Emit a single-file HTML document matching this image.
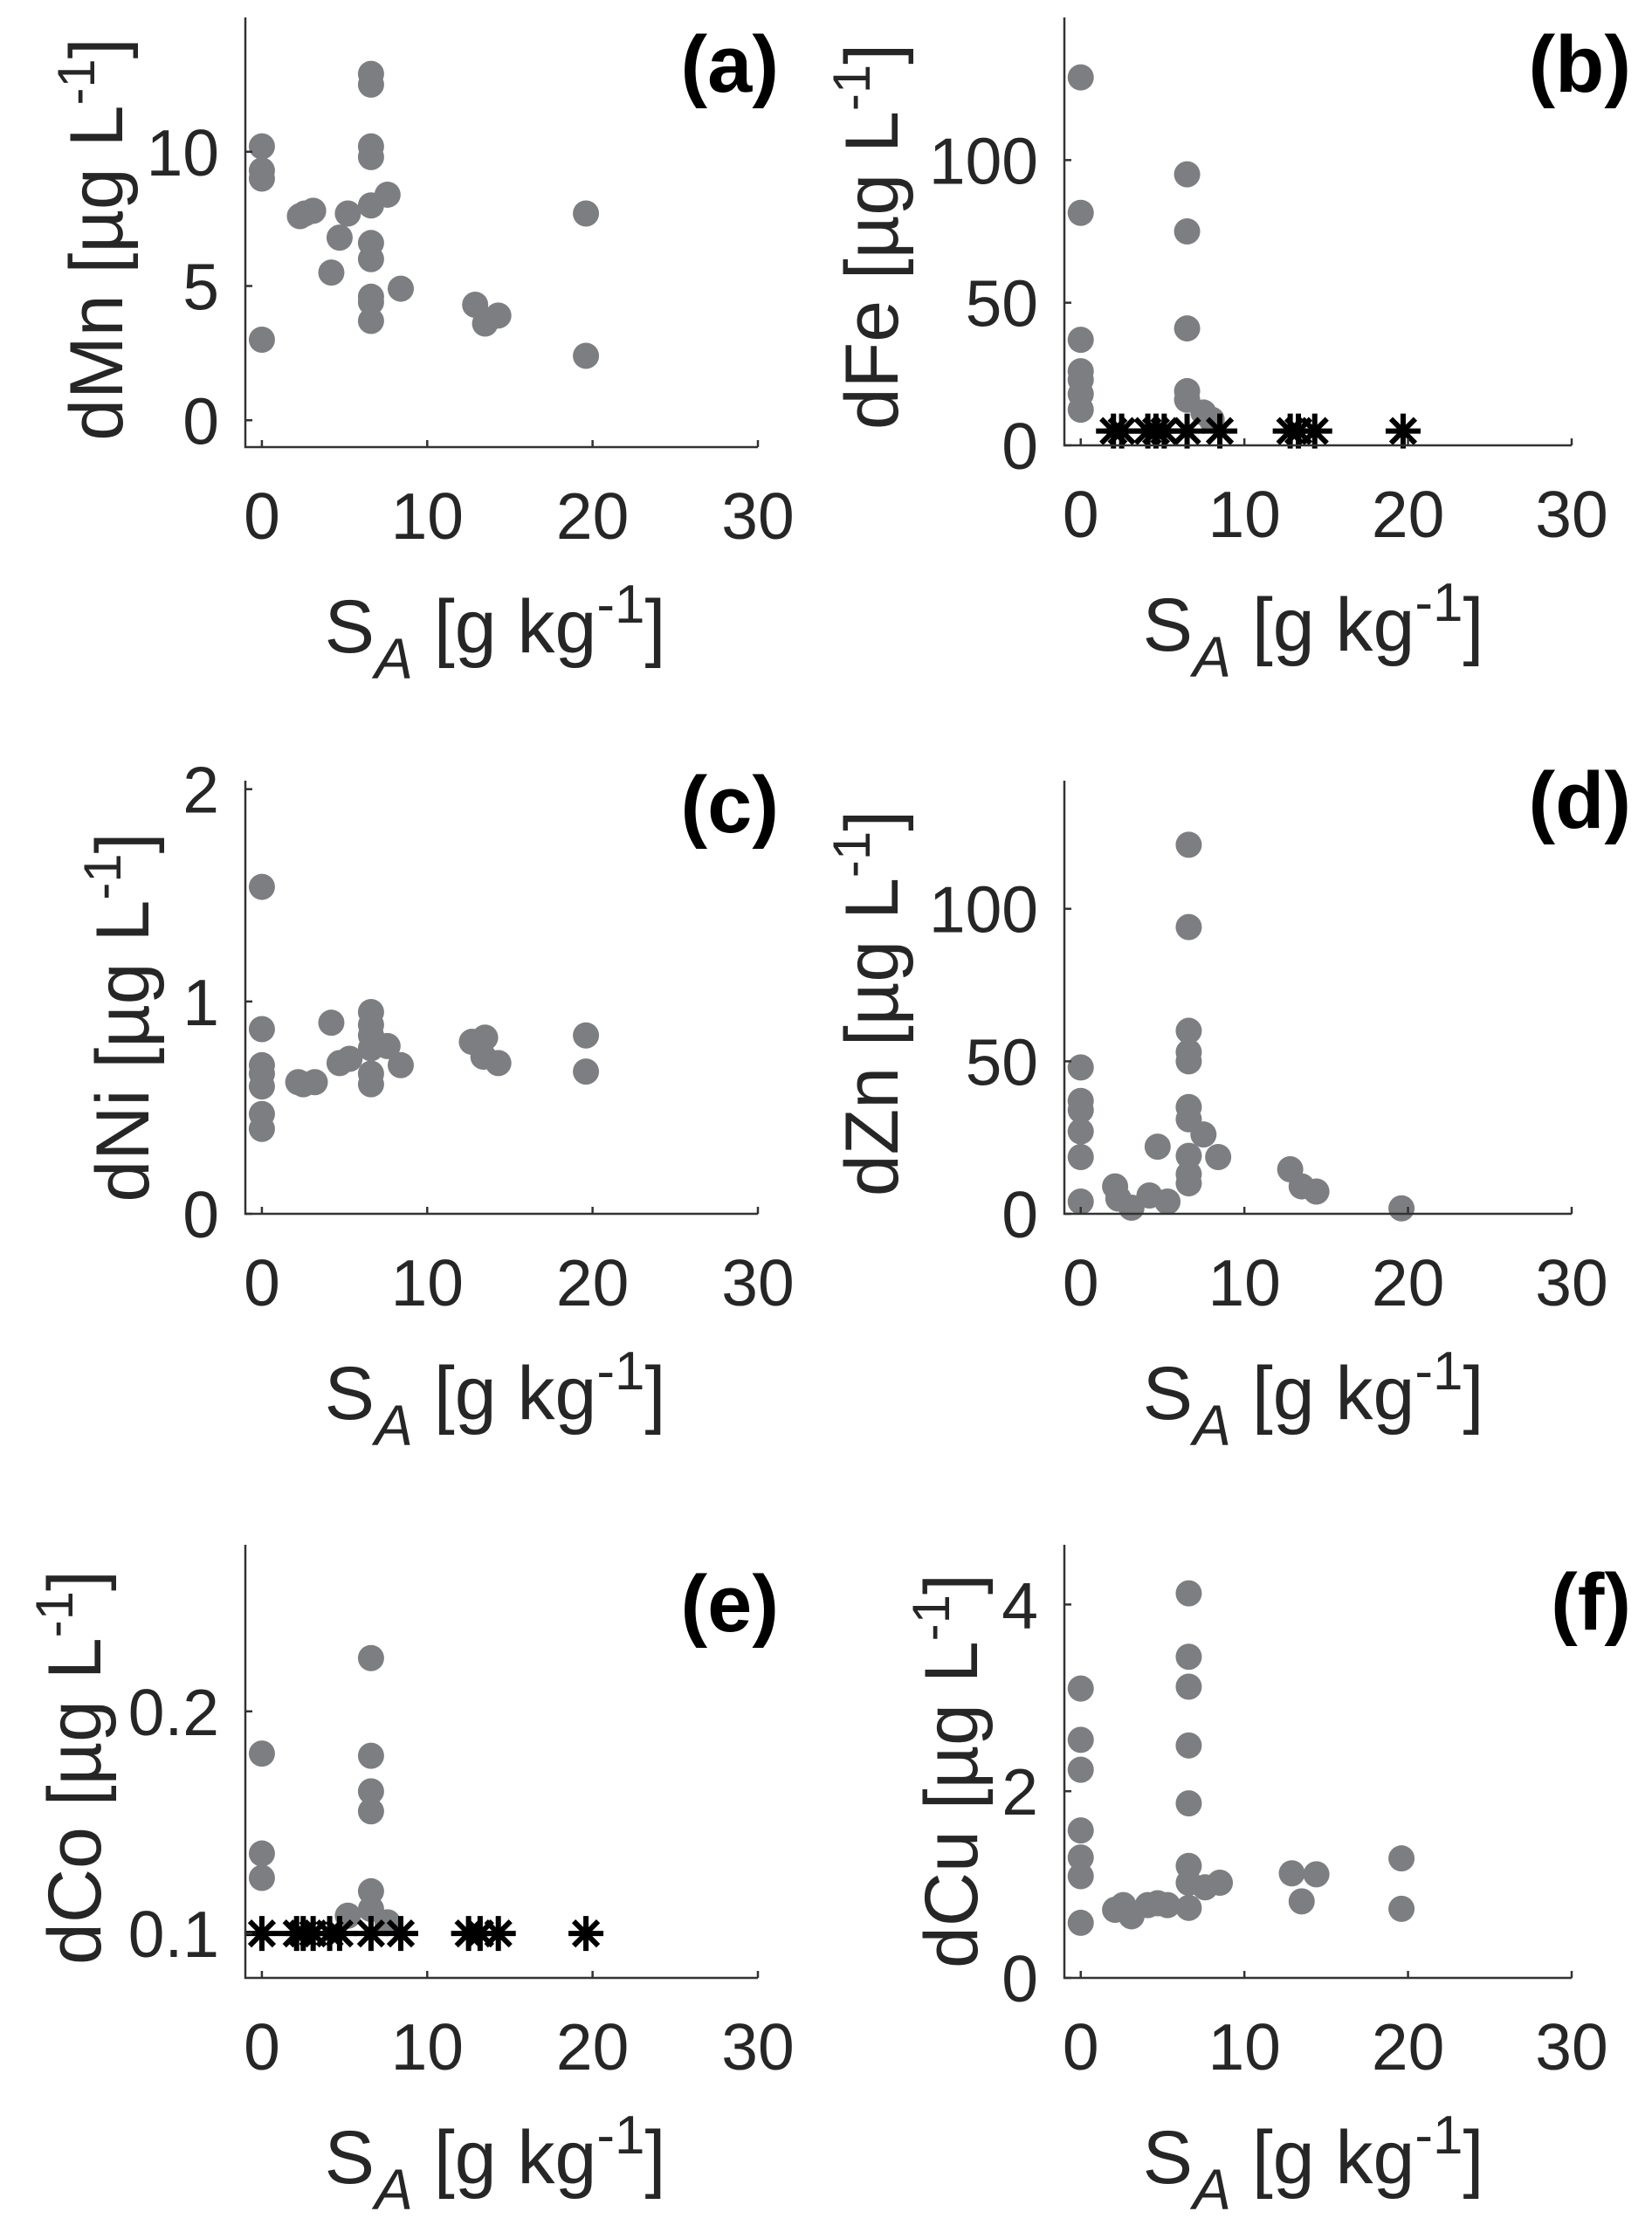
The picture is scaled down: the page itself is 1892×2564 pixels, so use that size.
<!DOCTYPE html>
<html><head><meta charset="utf-8"><style>
html,body{margin:0;padding:0;background:#fff;}
svg{display:block;font-family:"Liberation Sans",Arial,sans-serif;}
</style></head><body>
<svg id="fig" width="1892" height="2564" viewBox="0 0 1892 2564" xmlns="http://www.w3.org/2000/svg"></svg>
<script>
// ---- data ----
const aX=[0,0,0,0,2.3,2.6,3.1,4.7,4.2,5.2,6.6,6.6,6.6,6.6,6.6,7.6,6.6,6.6,6.6,6.6,6.6,8.4,12.9,13.5,14.3,19.6,19.6];
const aY=[10.2,9.3,9.0,3.0,7.6,7.7,7.8,6.8,5.5,7.7,12.9,12.5,10.2,9.8,8.0,8.4,6.6,6.0,4.6,4.4,3.7,4.9,4.3,3.6,3.9,7.7,2.4];
const bX=[0,0,0,0,0,0,0,6.5,6.5,6.5,6.5,6.5,7.5,8];
const bY=[129,81.5,37,26,23,18,12.5,95,75,41,19,16,11.5,9];
const bStarX=[2.0,2.5,4.1,4.6,5.1,6.5,8.5,12.8,13.3,14.3,19.7];
const bStarY=[5,5,5,5,5,5,5,5,5,5,5];
const cX=[0,0,0,0,0,0,0,2.2,2.5,3.2,4.2,4.7,5.3,6.6,6.6,6.6,6.6,6.6,6.6,7.6,8.4,12.7,13.5,13.4,14.3,19.6,19.6];
const cY=[1.54,0.87,0.70,0.66,0.60,0.47,0.40,0.62,0.61,0.62,0.90,0.71,0.73,0.95,0.89,0.84,0.78,0.66,0.61,0.79,0.70,0.81,0.83,0.74,0.71,0.84,0.67];
const dX=[0,0,0,0,0,0,2.1,2.3,3.1,4.2,4.7,5.3,6.6,6.6,6.6,6.6,6.6,6.6,6.6,6.6,6.6,6.6,7.5,8.4,12.8,13.5,14.4,19.6];
const dY=[48,37,34,27,18.6,4,9,5,2,6,22,4,121,94,60,53,50,35,31,19,13,10,26,18.6,14.6,9,7.3,1.8];
const eX=[0,0,0,6.6,6.6,6.6,6.6,6.6,6.6,5.2,7.6];
const eY=[0.181,0.136,0.125,0.224,0.180,0.164,0.155,0.119,0.111,0.108,0.105];
const eStarX=[0,2.1,2.5,3.1,4.1,4.7,6.6,8.4,12.5,13.2,14.3,19.6];
const eStarY=[0.1,0.1,0.1,0.1,0.1,0.1,0.1,0.1,0.1,0.1,0.1,0.1];
const fX=[0,0,0,0,0,0,0,2.1,2.6,3.1,4.1,4.7,5.3,6.6,6.6,6.6,6.6,6.6,6.6,6.6,6.6,7.6,8.5,12.9,14.4,13.5,19.6,19.6];
const fY=[3.1,2.55,2.23,1.58,1.29,1.09,0.59,0.73,0.78,0.66,0.78,0.80,0.78,4.12,3.44,3.12,2.49,1.87,1.20,1.02,0.75,0.97,1.02,1.12,1.11,0.82,1.28,0.74];
const xTicks=[0,10,20,30];
const yTicksA=[0,5,10], yTicksB=[0,50,100], yTicksC=[0,1,2], yTicksD=[0,50,100], yTicksE=[0.1,0.2], yTicksF=[0,2,4];

const NS="http://www.w3.org/2000/svg";
const svg=document.getElementById('fig');
function mk(tag,attrs,parent){const e=document.createElementNS(NS,tag);for(const k in attrs)e.setAttribute(k,attrs[k]);(parent||svg).appendChild(e);return e;}

const panels=[
 {id:'a',elem:'Mn',x0:281,x1:868,y0:20,y1:512,ymin:-1,ymax:15,yt:yTicksA,xs:aX,ys:aY,lab:[892,105],ylx:109,yly:274,xlx:567},
 {id:'b',elem:'Fe',x0:1219,x1:1800,y0:20,y1:510,ymin:0,ymax:150,yt:yTicksB,xs:bX,ys:bY,sx:bStarX,sy:bStarY,lab:[1868,105],ylx:997,yly:271,xlx:1504},
 {id:'c',elem:'Ni',x0:281,x1:868,y0:894,y1:1390,ymin:0,ymax:2.04,yt:yTicksC,xs:cX,ys:cY,lab:[892,953],ylx:139,yly:1165,xlx:567},
 {id:'d',elem:'Zn',x0:1219,x1:1800,y0:894,y1:1390,ymin:0,ymax:142,yt:yTicksD,xs:dX,ys:dY,lab:[1868,948],ylx:997,yly:1149,xlx:1504},
 {id:'e',elem:'Co',x0:281,x1:868,y0:1769,y1:2265,ymin:0.08,ymax:0.275,yt:yTicksE,xs:eX,ys:eY,sx:eStarX,sy:eStarY,lab:[892,1868],ylx:84,yly:2024,xlx:567},
 {id:'f',elem:'Cu',x0:1219,x1:1800,y0:1769,y1:2265,ymin:0,ymax:4.64,yt:yTicksF,xs:fX,ys:fY,lab:[1868,1866],ylx:1088,yly:2028,xlx:1504}
];

panels.forEach(p=>{
  const g=mk('g',{});
  
  
  const sx=v=>p.x0+(v+1)/31*(p.x1-p.x0);
  const sy=v=>p.y1-(v-p.ymin)/(p.ymax-p.ymin)*(p.y1-p.y0);
  p.xs.forEach((x,i)=>{
    const c=mk('circle',{cx:sx(x),cy:sy(p.ys[i]),r:15,fill:'#7c7e81'},g);
    
    
  });
  if(p.sx){p.sx.forEach((x,i)=>{
    const cx=sx(x),cy=sy(p.sy[i]),r=20;
    const s=mk('path',{d:`M${cx-r} ${cy}H${cx+r}M${cx} ${cy-r}V${cy+r}M${cx-14} ${cy-14}L${cx+14} ${cy+14}M${cx-14} ${cy+14}L${cx+14} ${cy-14}`,stroke:'#000','stroke-width':6,fill:'none'},g);
    
    
  });}
  const ax=mk('path',{d:`M${p.x0} ${p.y0}V${p.y1}H${p.x1}`,stroke:'#333',fill:'none','stroke-width':2.5},g);
  
  
  xTicks.forEach(t=>{
    const x=sx(t);
    mk('line',{x1:x,x2:x,y1:p.y1,y2:p.y1-8,stroke:'#333','stroke-width':2.5},g);
    const tx=mk('text',{x:x,y:p.y1+105,'text-anchor':'middle','font-size':75,fill:'#262626'},g);
    tx.textContent=t;
    
    
  });
  p.yt.forEach(t=>{
    const y=sy(t);
    mk('line',{x1:p.x0,x2:p.x0+8,y1:y,y2:y,stroke:'#333','stroke-width':2.5},g);
    const tx=mk('text',{x:p.x0-30,y:y+27,'text-anchor':'end','font-size':75,fill:'#262626'},g);
    tx.textContent=t;
    
    
  });
  const lb=mk('text',{x:p.lab[0],y:p.lab[1],'text-anchor':'end','font-size':92,'font-weight':'bold',fill:'#000'},g);
  lb.textContent='('+p.id+')';
  
  
  const yl=mk('text',{x:0,y:0,'text-anchor':'middle','font-size':86,fill:'#262626',transform:`translate(${p.ylx+31},${p.yly}) rotate(-90)`},g);
  yl.innerHTML=`d${p.elem} [µg L<tspan dy="-32" font-size="60">-1</tspan><tspan dy="32">]</tspan>`;
  
  
  const xl=mk('text',{x:p.xlx,y:p.y1+235,'text-anchor':'middle','font-size':86,fill:'#262626'},g);
  xl.innerHTML=`S<tspan dy="30" font-size="66" font-style="italic">A</tspan><tspan dy="-30"> [g kg</tspan><tspan dy="-34" font-size="62">-1</tspan><tspan dy="34">]</tspan>`;
  
  
});
</script>
</body></html>
